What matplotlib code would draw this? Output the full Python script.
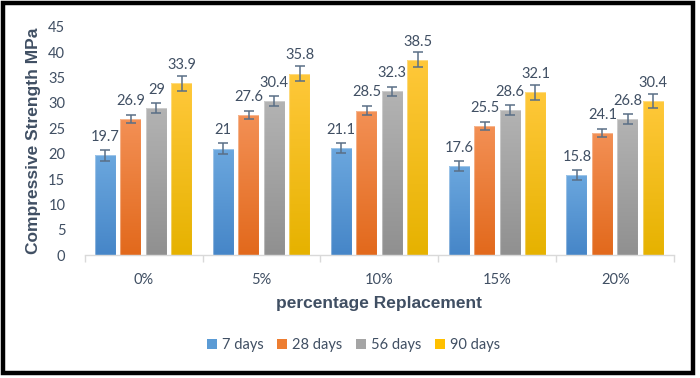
import numpy as np
import matplotlib.pyplot as plt
from matplotlib.colors import LinearSegmentedColormap
from matplotlib.patches import Rectangle

plt.rcParams['font.family'] = ['Lato', 'DejaVu Sans']

categories = ['0%', '5%', '10%', '15%', '20%']
series = ['7 days', '28 days', '56 days', '90 days']
d7 = [19.7, 21, 21.1, 17.6, 15.8]
d28 = [26.9, 27.6, 28.5, 25.5, 24.1]
d56 = [29, 30.4, 32.3, 28.6, 26.8]
d90 = [33.9, 35.8, 38.5, 32.1, 30.4]
e7 = [1.05, 1.05, 1.05, 1.05, 1.0]
e28 = [0.8, 0.8, 0.8, 0.8, 0.8]
e56 = [1.0, 0.95, 0.9, 0.9, 0.95]
e90 = [1.45, 1.45, 1.45, 1.45, 1.4]

values = [d7, d28, d56, d90]
errors = [e7, e28, e56, e90]
# (top colour, bottom colour) for the gradient fill
grads = [('#6ba7de', '#4686c8'), ('#f39055', '#e2691c'),
         ('#b3b3b3', '#909090'), ('#ffc83a', '#e6b200')]
legend_cols = ['#5b9bd5', '#ed7d31', '#a5a5a5', '#ffc000']
txt = '#404f63'

fig = plt.figure(figsize=(7, 3.78), dpi=100)
ax = fig.add_axes([0.121, 0.325, 0.842, 0.604])

x = np.arange(len(categories))
pitch = 0.216
width = 0.178

for i, (vals, errs) in enumerate(zip(values, errors)):
    pos = x + (i - 1.5) * pitch
    bars = ax.bar(pos, vals, width, color='none', edgecolor='none', zorder=2)
    cmap = LinearSegmentedColormap.from_list('g%d' % i, [grads[i][1], grads[i][0]])
    for b in bars:
        x0, h = b.get_x(), b.get_height()
        im = ax.imshow(np.linspace(0, 1, 100).reshape(-1, 1), cmap=cmap,
                       extent=[x0, x0 + width, 0, h], origin='lower',
                       aspect='auto', zorder=2)
        clip = Rectangle((x0, 0), width, h, transform=ax.transData)
        im.set_clip_path(clip)
        ax.add_patch(Rectangle((x0, 0), width, h, fill=False,
                               edgecolor='white', alpha=0.35, lw=0.8, zorder=3))
    ax.errorbar(pos, vals, yerr=errs, fmt='none', ecolor='#5a6f86',
                elinewidth=1.1, capsize=3.5, capthick=1.1, zorder=4)
    for p, v in zip(pos, vals):
        ax.annotate('%g' % v, (p, v), xytext=(0, 8), textcoords='offset points',
                    ha='center', va='bottom', fontsize=10.5, color=txt, zorder=5)
    ax.bar([0], [0], color=legend_cols[i], label=series[i])

ax.set_xlim(-0.5, len(categories) - 0.5)
ax.set_ylim(0, 45)
ax.set_yticks(range(0, 46, 5))
ax.set_xticks(x)
ax.set_xticklabels(categories)
ax.set_xticks(np.arange(-0.5, len(categories), 1), minor=True)
ax.tick_params(axis='x', which='major', length=0, pad=13, labelsize=10.5, labelcolor=txt)
ax.tick_params(axis='x', which='minor', length=5, color='#d9d9d9', width=1)
ax.tick_params(axis='y', length=0, pad=14, labelsize=10.5, labelcolor=txt)
for s in ['top', 'right', 'left']:
    ax.spines[s].set_visible(False)
ax.spines['bottom'].set_color('#d9d9d9')
ax.spines['bottom'].set_linewidth(1)

ax.set_xlabel('percentage Replacement', fontsize=12.5, fontweight='bold',
              color=txt, family='Liberation Sans', labelpad=6)
ax.set_ylabel('Compressive Strength MPa', fontsize=12.5, fontweight='bold',
              color=txt, family='Liberation Sans', labelpad=5)

fig.legend(loc='center', bbox_to_anchor=(0.505, 0.087), ncol=4, frameon=False,
           handlelength=0.7, handleheight=0.7, handletextpad=0.35,
           columnspacing=0.9, fontsize=10.5, labelcolor=txt)

fig.patches.append(Rectangle((3 / 700, 5 / 378), 690 / 700, 370 / 378,
                             transform=fig.transFigure, fill=False,
                             edgecolor='black', lw=3.2))

fig.savefig('out.png', dpi=100)
